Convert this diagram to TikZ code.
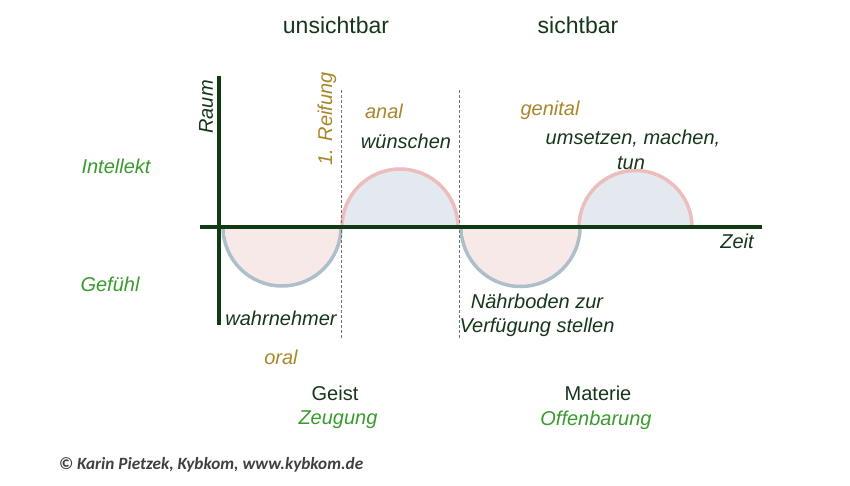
\documentclass[tikz,border=0pt]{standalone}
\usepackage{fontspec}
\setmainfont{Liberation Sans}
\newfontfamily\cfont{Carlito}
\definecolor{axisgreen}{HTML}{0F3A12}
\definecolor{textgreen}{HTML}{16361A}
\definecolor{lightgreen}{HTML}{3A9A2E}
\definecolor{gold}{HTML}{A8862A}
\definecolor{pinkfill}{HTML}{F8E9E9}
\definecolor{bluefill}{HTML}{E3E9EE}
\definecolor{pinkline}{HTML}{EBBDBD}
\definecolor{blueline}{HTML}{ADBFC9}
\definecolor{dashgray}{HTML}{707070}
\definecolor{copygray}{HTML}{404040}
\tikzset{
  lab/.style={font=\fontsize{20}{23}\selectfont\itshape, text=textgreen, inner sep=0pt, align=center},
  side/.style={font=\fontsize{20}{23}\selectfont\itshape, text=lightgreen, inner sep=0pt},
  stage/.style={font=\fontsize{20}{23}\selectfont\itshape, text=gold, inner sep=0pt},
  head/.style={font=\fontsize{23}{26}\selectfont, text=textgreen, inner sep=0pt},
  sub/.style={font=\fontsize{20}{23}\selectfont, text=textgreen, inner sep=0pt},
  axisline/.style={draw=axisgreen, line width=4pt},
  divider/.style={draw=dashgray, line width=0.9pt, dash pattern=on 3pt off 2pt},
  lowarc/.style={fill=pinkfill, draw=blueline, line width=3.5pt},
  uparc/.style={fill=bluefill, draw=pinkline, line width=3.5pt},
}
\begin{document}
\begin{tikzpicture}[x=1pt,y=-1pt]
\useasboundingbox (0,0) rectangle (850,486);
% semicircles
\path[lowarc] (223,227) arc[start angle=180,end angle=360,radius=59pt] -- cycle;
\path[uparc] (342,227) arc[start angle=180,end angle=0,radius=58pt] -- cycle;
\path[lowarc] (461,227) arc[start angle=180,end angle=360,radius=59.5pt] -- cycle;
\path[uparc] (579,227) arc[start angle=180,end angle=0,radius=56.5pt] -- cycle;
\fill[pinkfill] (225,230) rectangle (338,236);
\fill[pinkfill] (463,230) rectangle (578,236);
% coordinates
\coordinate (hxL) at (200,227);
\coordinate (hxR) at (762,227);
\coordinate (vxT) at (219,76);
\coordinate (vxB) at (219,325);
\coordinate (d1T) at (341,90);
\coordinate (d1B) at (341,338);
\coordinate (d2T) at (459,90);
\coordinate (d2B) at (459,338);
% dividers
\draw[divider] (d1T) -- (d1B);
\draw[divider] (d2T) -- (d2B);
% axes
\draw[axisline] (hxL) -- (hxR);
\draw[axisline] (vxT) -- (vxB);
% labels
\node[lab, rotate=90] (raum) at (206,107) {Raum};
\node[lab] (zeit) at (737,241) {Zeit};
\node[stage, rotate=90] (reif) at (327,119) {1. Reifung};
\node[stage] (anal) at (384,111) {anal};
\node[lab] (wuen) at (406,141) {wünschen};
\node[stage] (gen) at (550,110) {genital};
\node[lab] (ums) at (633,139) {umsetzen, machen,};
\node[lab] (tun) at (631,163) {tun};
\node[lab] (wahr) at (281,318) {wahrnehmer};
\node[lab] (naehr) at (537,301) {Nährboden zur};
\node[lab] (verf) at (537,327) {Verfügung stellen};
\node[side] (intel) at (116,166) {Intellekt};
\node[side] (gef) at (110,284) {Gefühl};
\node[stage] (oral) at (281,357) {oral};
\node[head] (unsicht) at (336,25) {unsichtbar};
\node[head] (sicht) at (578,25) {sichtbar};
\node[sub] (geist) at (335,393) {Geist};
\node[side] (zeug) at (338,420) {Zeugung};
\node[sub] (mat) at (598,393) {Materie};
\node[side] (offen) at (596,420) {Offenbarung};
\node[font=\cfont\fontsize{17.2}{20}\selectfont\bfseries\itshape, text=copygray, inner sep=0pt] (copy) at (211,465) {© Karin Pietzek, Kybkom, www.kybkom.de};
\end{tikzpicture}
\end{document}
